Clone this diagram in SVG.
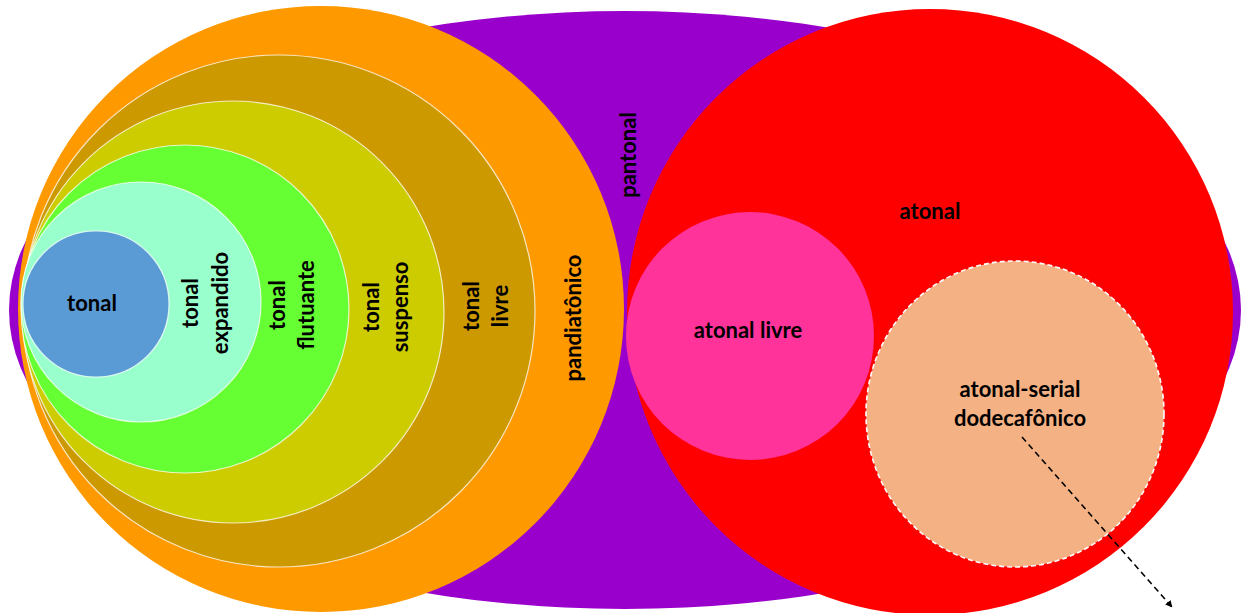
<svg xmlns="http://www.w3.org/2000/svg" width="1241" height="613" viewBox="0 0 1241 613">
  <style>
    text { font-family: Lato, "Open Sans", "Liberation Sans", sans-serif; font-weight: bold; font-size: 22px; fill: #000; }
    .c { text-anchor: middle; }
    .ring { stroke: #ffffff; stroke-opacity: 0.75; stroke-width: 1.2; }
    .dash { fill: none; stroke: #000; stroke-width: 1.6; stroke-dasharray: 6 4; }
  </style>
  <defs>
    <marker id="arrow" viewBox="0 0 10 10" refX="9" refY="5" markerWidth="7" markerHeight="7" orient="auto" markerUnits="userSpaceOnUse">
      <path d="M0,0 L10,5 L0,10 z" fill="#000"/>
    </marker>
  </defs>
  <rect width="1241" height="613" fill="#ffffff"/>

  <!-- outer set: pantonal -->
  <g id="pantonal">
    <ellipse cx="625" cy="310" rx="616" ry="299" fill="#9900CC"/>
    <text transform="translate(636,155) rotate(-90)" class="c">pantonal</text>
  </g>

  <!-- tonal family, nested circles touching on the left -->
  <g id="pandiatonico">
    <circle cx="321" cy="309" r="303" fill="#FF9900"/>
    <text transform="translate(581,318) rotate(-90)" class="c">pandiatônico</text>
  </g>
  <g id="tonal-livre">
    <circle cx="279" cy="311" r="256" fill="#CC9900" class="ring"/>
    <text transform="translate(479,306) rotate(-90)" class="c">tonal</text>
    <text transform="translate(508,306) rotate(-90)" class="c">livre</text>
  </g>
  <g id="tonal-suspenso">
    <circle cx="233" cy="312" r="211" fill="#CCCC00" class="ring"/>
    <text transform="translate(379,307) rotate(-90)" class="c">tonal</text>
    <text transform="translate(408,307) rotate(-90)" class="c">suspenso</text>
  </g>
  <g id="tonal-flutuante">
    <circle cx="185" cy="309" r="164" fill="#66FF33" class="ring"/>
    <text transform="translate(285,305) rotate(-90)" class="c">tonal</text>
    <text transform="translate(314,305) rotate(-90)" class="c">flutuante</text>
  </g>
  <g id="tonal-expandido">
    <circle cx="141" cy="302" r="120" fill="#99FFCC" class="ring"/>
    <text transform="translate(198,303) rotate(-90)" class="c">tonal</text>
    <text transform="translate(228,303) rotate(-90)" class="c">expandido</text>
  </g>
  <g id="tonal">
    <circle cx="96" cy="304" r="73" fill="#5B9BD5" class="ring"/>
    <text x="92" y="311" class="c">tonal</text>
  </g>

  <!-- atonal family -->
  <g id="atonal">
    <circle cx="930" cy="312" r="303" fill="#FF0000"/>
    <text x="930" y="219" class="c">atonal</text>
  </g>
  <g id="atonal-livre">
    <circle cx="750" cy="336" r="124" fill="#FF3399"/>
    <text x="748" y="338" class="c">atonal livre</text>
  </g>
  <g id="atonal-serial">
    <ellipse cx="1015" cy="414" rx="149" ry="153" fill="#F4B183" stroke="#ffffff" stroke-width="1.6" stroke-dasharray="5 3"/>
    <text x="1020" y="397" class="c">atonal-serial</text>
    <text x="1020" y="426" class="c">dodecafônico</text>
  </g>

  <!-- connectors -->
  <g id="connectors">
    <line x1="1022" y1="437" x2="1172" y2="607" class="dash" marker-end="url(#arrow)"/>
  </g>
</svg>
